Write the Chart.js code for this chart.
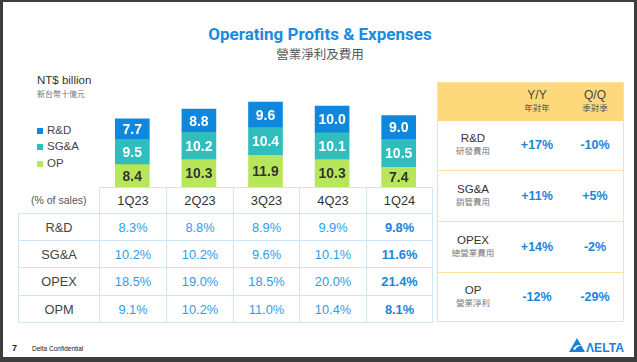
<!DOCTYPE html>
<html>
<head>
<meta charset="utf-8">
<script src="https://cdn.jsdelivr.net/npm/chart.js@4.4.1/dist/chart.umd.min.js"></script>
<style>
  html, body { margin:0; padding:0; background:#fff; }
  body { width:637px; height:362px; position:relative; overflow:hidden; font-family:"Liberation Sans", Arial, sans-serif; }
  .abs { position:absolute; }
  .frame { position:absolute; background:#3d3d3d; }
  #title { left:0; width:640px; top:25px; line-height:18px; text-align:center; font-family:Roboto, "Liberation Sans", sans-serif; font-weight:700; font-size:17px; color:#1b8ae0; }
  #subtitle { left:0; width:640px; top:47px; line-height:14px; text-align:center; font-family:"Noto Sans CJK TC", sans-serif; font-size:12.5px; color:#555; }
  #unit { left:37px; top:74px; font-size:11.5px; color:#333; }
  #unitZh { left:37px; top:88px; font-family:"Noto Sans CJK TC", sans-serif; font-size:8px; color:#777; }
  .leg { position:absolute; left:37px; font-size:11.5px; color:#444; height:14px; line-height:14px; }
  .leg i { display:inline-block; width:6px; height:6px; margin-right:4px; vertical-align:0px; }
  #tbl { position:absolute; left:18px; top:187px; border-collapse:collapse; table-layout:fixed; }
  #tbl td { border:1px solid #cde6f8; text-align:center; padding:0; font-size:12.8px; color:#2f9ce8; }
  #tbl td.lab { color:#444; }
  #tbl td.hd { color:#333; }
  #tbl td.bold { font-weight:700; color:#1a84dc; }
  #tbl td.corner { border:none; color:#555; font-size:10.5px; }
  #panel { position:absolute; left:437px; top:82px; width:185px; height:238px; border:1.5px solid #fde39a; }
  .prow { position:absolute; left:0; width:185px; border-top:1.5px solid #fde39a; }
  .pcell { position:absolute; text-align:center; }
  .pen { font-size:11.5px; color:#333; line-height:13px; }
  .pzh { font-family:"Noto Sans CJK TC", sans-serif; font-size:8.5px; color:#777; line-height:11px; }
  .pval { font-size:12.5px; font-weight:700; color:#1a84dc; }
</style>
</head>
<body>
<div class="frame" style="left:0;top:0;width:637px;height:2px"></div>
<div class="frame" style="left:0;top:0;width:3px;height:362px"></div>
<div class="frame" style="left:634px;top:0;width:3px;height:362px"></div>
<div class="frame" style="left:0;top:357px;width:637px;height:5px"></div>

<div id="title" class="abs">Operating Profits &amp; Expenses</div>
<div id="subtitle" class="abs">營業淨利及費用</div>
<div id="unit" class="abs">NT$ billion</div>
<div id="unitZh" class="abs">新台幣十億元</div>
<div id="legend"></div>

<canvas id="c" width="333" height="100" style="position:absolute;left:99px;top:87px;"></canvas>
<table id="tbl"></table>
<div id="panel"></div>

<div class="abs" style="left:12px;top:343px;font-size:9px;font-weight:700;color:#222;">7</div>
<div class="abs" style="left:32px;top:345px;font-size:6.5px;color:#222;">Delta Confidential</div>
<svg class="abs" style="left:569px;top:337px" width="56" height="16" viewBox="0 0 56 16">
  <polygon points="8,1 16,15 0,15" fill="#1d7fd6"/>
  <path d="M4,12 Q8,6 13,9 Q9,8 6,13 Z" fill="#fff"/>
  <text x="17" y="14.5" font-family="Liberation Sans" font-weight="700" font-size="12" fill="#1d7fd6" textLength="38" lengthAdjust="spacingAndGlyphs">ΛELTA</text>
</svg>

<script>
const quarters = ['1Q23', '2Q23', '3Q23', '4Q23', '1Q24'];
const seriesNames = ['R&D', 'SG&A', 'OP'];
const rdValues  = [7.7, 8.8, 9.6, 10.0, 9.0];
const sgaValues = [9.5, 10.2, 10.4, 10.1, 10.5];
const opValues  = [8.4, 10.3, 11.9, 10.3, 7.4];

const pctRows = ['R&D', 'SG&A', 'OPEX', 'OPM'];
const rdPct   = [8.3, 8.8, 8.9, 9.9, 9.8];
const sgaPct  = [10.2, 10.2, 9.6, 10.1, 11.6];
const opexPct = [18.5, 19.0, 18.5, 20.0, 21.4];
const opmPct  = [9.1, 10.2, 11.0, 10.4, 8.1];

const growthItems   = ['R&D', 'SG&A', 'OPEX', 'OP'];
const growthItemsZh = ['研發費用', '銷管費用', '總營業費用', '營業淨利'];
const yoyValues = ['+17%', '+11%', '+14%', '-12%'];
const qoqValues = ['-10%', '+5%', '-2%', '-29%'];

const colors = { 'R&D': '#0f87dd', 'SG&A': '#30bdbd', 'OP': '#b8e65a' };
const labelColors = { 'R&D': '#ffffff', 'SG&A': '#ffffff', 'OP': '#333333' };

// legend
const legend = document.getElementById('legend');
const legTops = [123, 139, 156];
seriesNames.forEach((n, i) => {
  const d = document.createElement('div');
  d.className = 'leg';
  d.style.top = legTops[i] + 'px';
  d.innerHTML = '<i style="background:' + colors[n] + '"></i>';
  d.appendChild(document.createTextNode(n));
  legend.appendChild(d);
});

// chart
const valueLabels = {
  id: 'valueLabels',
  afterDatasetsDraw(chart) {
    const ctx = chart.ctx;
    ctx.save();
    ctx.textAlign = 'center';
    ctx.textBaseline = 'middle';
    ctx.font = 'bold 14px "Liberation Sans", Arial, sans-serif';
    chart.data.datasets.forEach((ds, di) => {
      const meta = chart.getDatasetMeta(di);
      meta.data.forEach((el, i) => {
        ctx.fillStyle = labelColors[ds.label];
        ctx.fillText(ds.data[i].toFixed(1), el.x, (el.y + el.base) / 2 + 1);
      });
    });
    ctx.restore();
  }
};

new Chart(document.getElementById('c'), {
  type: 'bar',
  data: {
    labels: quarters,
    datasets: [
      { label: 'OP', data: opValues, backgroundColor: colors['OP'] },
      { label: 'SG&A', data: sgaValues, backgroundColor: colors['SG&A'] },
      { label: 'R&D', data: rdValues, backgroundColor: colors['R&D'] }
    ]
  },
  options: {
    responsive: false,
    devicePixelRatio: 1,
    animation: false,
    layout: { padding: 0 },
    datasets: { bar: { barThickness: 34, borderWidth: 0 } },
    scales: {
      x: { stacked: true, display: false, offset: true, grid: { display: false } },
      y: { stacked: true, display: false, min: 0, max: 37.6 }
    },
    plugins: { legend: { display: false }, tooltip: { enabled: false } }
  },
  plugins: [valueLabels]
});

// percentage table
const tbl = document.getElementById('tbl');
const colW = [81, 67, 67, 66, 67, 66];
const rowH = [26, 27, 27, 28, 27];
const cg = document.createElement('colgroup');
colW.forEach(w => { const c = document.createElement('col'); c.style.width = w + 'px'; cg.appendChild(c); });
tbl.appendChild(cg);
tbl.style.width = colW.reduce((a, b) => a + b, 0) + 'px';
function addRow(cells, h) {
  const tr = document.createElement('tr');
  tr.style.height = h + 'px';
  cells.forEach(c => {
    const td = document.createElement('td');
    td.textContent = c.t;
    if (c.cls) td.className = c.cls;
    td.style.height = (h - 1) + 'px';
    tr.appendChild(td);
  });
  tbl.appendChild(tr);
}
addRow([{ t: '(% of sales)', cls: 'corner' }].concat(quarters.map(q => ({ t: q, cls: 'hd' }))), rowH[0]);
const pctData = [rdPct, sgaPct, opexPct, opmPct];
pctRows.forEach((r, ri) => {
  const cells = [{ t: r, cls: 'lab' }];
  pctData[ri].forEach((v, i) => cells.push({ t: v.toFixed(1) + '%', cls: i === quarters.length - 1 ? 'bold' : '' }));
  addRow(cells, rowH[ri + 1]);
});

// growth panel
const panel = document.getElementById('panel');
const hdr = document.createElement('div');
hdr.className = 'abs';
hdr.style.cssText = 'left:0;top:0;width:185px;height:38px;background:#fdd97b;';
panel.appendChild(hdr);
const cx = [35, 99, 157];
function addHead(en, zh, x) {
  const a = document.createElement('div');
  a.className = 'pcell';
  a.style.cssText = 'left:' + (x - 30) + 'px;width:60px;top:6px;';
  a.innerHTML = '<div class="pen" style="color:#444;font-size:12px">' + en + '</div><div class="pzh" style="color:#555">' + zh + '</div>';
  panel.appendChild(a);
}
addHead('Y/Y', '年對年', cx[1]);
addHead('Q/Q', '季對季', cx[2]);
const rowTops = [38, 87, 138, 189];
const rowHs = [49, 51, 51, 49];
growthItems.forEach((g, i) => {
  const row = document.createElement('div');
  row.className = 'prow';
  row.style.top = rowTops[i] + 'px';
  row.style.height = rowHs[i] + 'px';
  if (i === 0) row.style.borderTop = 'none';
  const lab = document.createElement('div');
  lab.className = 'pcell';
  lab.style.cssText = 'left:' + (cx[0] - 35) + 'px;width:70px;top:' + (rowHs[i] / 2 - 14) + 'px;';
  lab.innerHTML = '<div class="pen"></div><div class="pzh"></div>';
  lab.children[0].textContent = g;
  lab.children[1].textContent = growthItemsZh[i];
  row.appendChild(lab);
  [yoyValues[i], qoqValues[i]].forEach((v, k) => {
    const d = document.createElement('div');
    d.className = 'pcell pval';
    d.style.cssText = 'left:' + (cx[k + 1] - 30) + 'px;width:60px;top:' + (rowHs[i] / 2 - 8) + 'px;';
    d.textContent = v;
    row.appendChild(d);
  });
  panel.appendChild(row);
});
</script>
</body>
</html>
